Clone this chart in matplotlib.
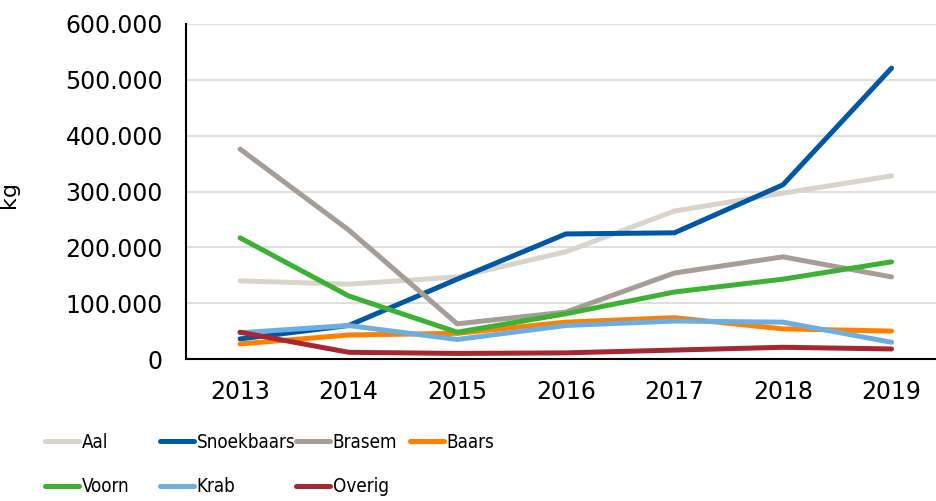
import numpy as np
import matplotlib.pyplot as plt
from matplotlib.ticker import FuncFormatter

# years on the x axis
years = ['2013', '2014', '2015', '2016', '2017', '2018', '2019']

# catch per species (kg)
aal = [140000, 134000, 147000, 192000, 265000, 297000, 328000]
snoekbaars = [36000, 60000, 143000, 224000, 226000, 312000, 521000]
brasem = [376000, 231000, 63000, 84000, 154000, 183000, 147000]
baars = [27000, 43000, 46000, 66000, 74000, 54000, 50000]
voorn = [217000, 113000, 48000, 81000, 120000, 143000, 174000]
krab = [47000, 60000, 35000, 60000, 68000, 66000, 30000]
overig = [48000, 12000, 10000, 11000, 16000, 21000, 18000]

names = ['Aal', 'Snoekbaars', 'Brasem', 'Baars', 'Voorn', 'Krab', 'Overig']
series = [aal, snoekbaars, brasem, baars, voorn, krab, overig]
colors = ['#D8D4CB', '#0057A4', '#A59D96', '#FF7F00', '#3DB134', '#6DAEE2', '#A8262F']

fig = plt.figure(figsize=(9.36, 5.01), dpi=100)
ax = fig.add_axes([0.1985, 0.2834, 0.812, 0.6687])

x = np.arange(len(years))
lines = {}
for name, vals, col in zip(names, series, colors):
    ln, = ax.plot(x, vals, color=col, lw=3.6, solid_capstyle='round',
                  solid_joinstyle='round', label=name)
    lines[name] = ln

ax.set_xlim(-0.5, 6.5)
ax.set_ylim(0, 600000)
ax.set_yticks(np.arange(0, 600001, 100000))
# dutch thousands separator
ax.yaxis.set_major_formatter(FuncFormatter(lambda v, p: f'{int(v):,}'.replace(',', '.')))
ax.set_xticks(x)
ax.set_xticklabels(years)
ax.tick_params(length=0, labelsize=17)
ax.tick_params(axis='x', pad=15)
ax.tick_params(axis='y', pad=16.5)
ax.grid(axis='y', color='#D9D9D9', lw=1.2)
ax.set_axisbelow(True)
for s in ['top', 'right']:
    ax.spines[s].set_visible(False)
for s in ['left', 'bottom']:
    ax.spines[s].set_linewidth(1.5)
    ax.spines[s].set_color('black')
ax.set_ylabel('kg', fontsize=16)
ax.yaxis.set_label_coords(-0.22, 0.49)

# legend in a fixed grid: one small legend per column
cols = [['Aal', 'Voorn'], ['Snoekbaars', 'Krab'], ['Brasem', 'Overig'], ['Baars']]
col_x = [45, 160, 296, 410]
for grp, px in zip(cols, col_x):
    fig.legend([lines[n] for n in grp], grp, loc='upper left',
               bbox_to_anchor=(px / 936, 0.136), frameon=False,
               borderpad=0, borderaxespad=0, handlelength=1.8,
               handletextpad=0.15, labelspacing=1.35,
               prop={'size': 13.5, 'stretch': 'condensed'})

plt.savefig('out.png', dpi=100)
